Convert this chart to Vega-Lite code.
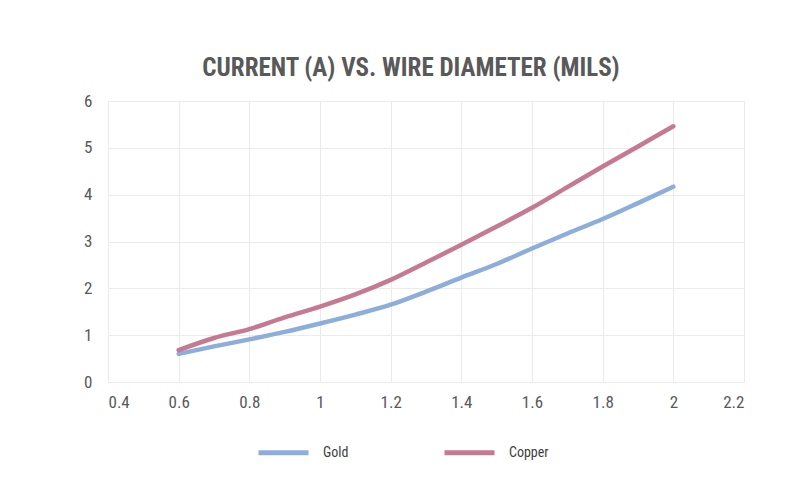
{
  "$schema": "https://vega.github.io/schema/vega-lite/v6.json",
  "width": 636,
  "height": 281,
  "autosize": {"type": "none"},
  "padding": {"left": 108, "top": 101, "right": 65, "bottom": 116},
  "background": "white",
  "title": {
    "text": "CURRENT (A) VS. WIRE DIAMETER (MILS)",
    "font": "Roboto Condensed, Liberation Sans Narrow, DejaVu Sans Condensed, Roboto",
    "fontSize": 25,
    "fontWeight": "bold",
    "color": "#595959",
    "offset": 11,
    "anchor": "middle",
    "dx": -15
  },
  "data": {
    "values": [
      {"d": 0.6, "current": 0.6, "metal": "Gold"},
      {"d": 0.7, "current": 0.76, "metal": "Gold"},
      {"d": 0.8, "current": 0.91, "metal": "Gold"},
      {"d": 0.9, "current": 1.07, "metal": "Gold"},
      {"d": 1.0, "current": 1.25, "metal": "Gold"},
      {"d": 1.1, "current": 1.44, "metal": "Gold"},
      {"d": 1.2, "current": 1.65, "metal": "Gold"},
      {"d": 1.3, "current": 1.93, "metal": "Gold"},
      {"d": 1.4, "current": 2.23, "metal": "Gold"},
      {"d": 1.5, "current": 2.52, "metal": "Gold"},
      {"d": 1.6, "current": 2.85, "metal": "Gold"},
      {"d": 1.7, "current": 3.17, "metal": "Gold"},
      {"d": 1.8, "current": 3.48, "metal": "Gold"},
      {"d": 1.9, "current": 3.82, "metal": "Gold"},
      {"d": 2.0, "current": 4.17, "metal": "Gold"},
      {"d": 0.6, "current": 0.68, "metal": "Copper"},
      {"d": 0.7, "current": 0.94, "metal": "Copper"},
      {"d": 0.8, "current": 1.13, "metal": "Copper"},
      {"d": 0.9, "current": 1.38, "metal": "Copper"},
      {"d": 1.0, "current": 1.61, "metal": "Copper"},
      {"d": 1.1, "current": 1.87, "metal": "Copper"},
      {"d": 1.2, "current": 2.18, "metal": "Copper"},
      {"d": 1.3, "current": 2.55, "metal": "Copper"},
      {"d": 1.4, "current": 2.93, "metal": "Copper"},
      {"d": 1.5, "current": 3.32, "metal": "Copper"},
      {"d": 1.6, "current": 3.72, "metal": "Copper"},
      {"d": 1.7, "current": 4.16, "metal": "Copper"},
      {"d": 1.8, "current": 4.6, "metal": "Copper"},
      {"d": 1.9, "current": 5.03, "metal": "Copper"},
      {"d": 2.0, "current": 5.46, "metal": "Copper"}
    ]
  },
  "mark": {"type": "line", "interpolate": "monotone", "strokeWidth": 4.5, "strokeCap": "round"},
  "encoding": {
    "x": {
      "field": "d",
      "type": "quantitative",
      "scale": {"domain": [0.4, 2.2], "nice": false, "zero": false},
      "axis": {"title": null, "values": [0.4, 0.6, 0.8, 1, 1.2, 1.4, 1.6, 1.8, 2, 2.2], "format": "~g", "labelPadding": 12, "labelOverlap": false}
    },
    "y": {
      "field": "current",
      "type": "quantitative",
      "scale": {"domain": [0, 6], "nice": false},
      "axis": {"title": null, "values": [0, 1, 2, 3, 4, 5, 6], "labelPadding": 16, "labelOverlap": false}
    },
    "color": {
      "field": "metal",
      "type": "nominal",
      "sort": ["Gold", "Copper"],
      "scale": {"domain": ["Gold", "Copper"], "range": ["#8daedb", "#c57a92"]},
      "legend": {
        "title": null,
        "orient": "none",
        "legendX": 148,
        "legendY": 324,
        "direction": "horizontal",
        "symbolType": "stroke",
        "symbolSize": 2500,
        "symbolStrokeWidth": 5,
        "labelOffset": 12,
        "columnPadding": 85,
        "labelFontSize": 14,
        "labelColor": "#404040"
      }
    }
  },
  "config": {
    "font": "Roboto Condensed, Liberation Sans Narrow, DejaVu Sans Condensed, Roboto",
    "view": {"stroke": "#ececec"},
    "axis": {
      "domain": false,
      "ticks": false,
      "gridColor": "#ebebeb",
      "gridWidth": 1,
      "labelFontSize": 17,
      "labelColor": "#595959",
      "labelFont": "Roboto Condensed, Liberation Sans Narrow, DejaVu Sans Condensed, Roboto"
    },
    "legend": {"labelFont": "Roboto Condensed, Liberation Sans Narrow, DejaVu Sans Condensed, Roboto"}
  }
}
